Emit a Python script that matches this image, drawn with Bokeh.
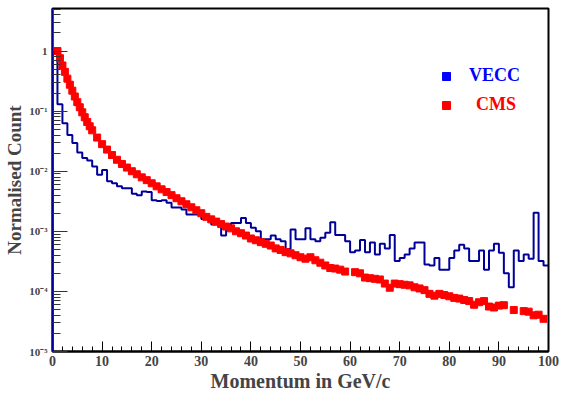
import numpy as np
from bokeh.plotting import figure
from bokeh.models import FixedTicker, Legend, LegendItem, Range1d
from bokeh.embed import file_html
from bokeh.resources import INLINE

# ---------------- data ----------------
vecc_edges = list(range(0, 101))
vecc_counts = [
    0.93, 0.130, 0.063, 0.040, 0.0295, 0.0204, 0.0166, 0.0151, 0.0120, 0.0087,
    0.0105, 0.0068, 0.0063, 0.0056, 0.0052, 0.0052, 0.0042, 0.0040, 0.0046, 0.0045,
    0.0033, 0.0032, 0.0033, 0.0030, 0.0025, 0.0025, 0.0023, 0.0019, 0.0019, 0.0019,
    0.0016, 0.0016, 0.0013, 0.0013, 0.00085, 0.00112, 0.00138, 0.00138, 0.00166, 0.00138,
    0.00115, 0.00100, 0.00074, 0.00074, 0.00085, 0.00074, 0.00068, 0.00051, 0.00107, 0.00074,
    0.00074, 0.00112, 0.00074, 0.00068, 0.00078, 0.00095, 0.00141, 0.00087, 0.00087, 0.00068,
    0.00045, 0.00048, 0.00072, 0.00045, 0.00065, 0.00041, 0.00062, 0.00052, 0.00087, 0.00032,
    0.00036, 0.00041, 0.00052, 0.00065, 0.00065, 0.00028, 0.00027, 0.00036, 0.00023, 0.00023,
    0.00036, 0.00048, 0.00060, 0.00052, 0.00032, 0.00032, 0.00048, 0.00023, 0.00048, 0.00062,
    0.00044, 0.00020, 0.000117, 0.00048, 0.00032, 0.00041, 0.00035, 0.00204, 0.00032, 0.00027,
]

cms_p = [1.0, 1.5, 2.0, 2.5, 3.0, 3.5, 4.0, 4.5, 5.0, 5.5, 6.0, 6.5, 7.0, 7.5, 8.0, 9, 10,
         11, 12, 13, 14, 15, 16, 17, 18, 19, 20,
         21, 22, 23, 24, 25, 26, 27, 28, 29, 30,
         31, 32, 33, 34, 35, 36, 37, 38, 39, 40,
         41, 42, 43, 44, 45, 46, 47, 48, 49, 50,
         51, 52, 53, 54, 55, 56, 57, 58, 59, 61,
         62, 63, 64, 65, 66, 67, 68, 69, 70, 71,
         72, 73, 74, 75, 76, 77, 78, 79, 80, 81,
         82, 83, 84, 85, 86, 87, 88, 89, 90, 91,
         93, 95, 96, 97, 98, 99]
cms_counts = [1.0, 0.76, 0.575, 0.45, 0.347, 0.275, 0.219, 0.175, 0.141, 0.116, 0.0955, 0.079,
              0.066, 0.056, 0.0479, 0.0363, 0.0282,
              0.0229, 0.0186, 0.0155, 0.0132, 0.0115, 0.0100, 0.0089, 0.0079, 0.0071, 0.0063,
              0.0056, 0.0050, 0.0045, 0.0040, 0.00355, 0.00316, 0.00282, 0.00251, 0.00224, 0.00200,
              0.00174, 0.00158, 0.00145, 0.00132, 0.00120, 0.00112, 0.00100, 0.00093, 0.00085, 0.00076,
              0.00071, 0.00066, 0.00062, 0.00058, 0.00052, 0.00049, 0.00045, 0.00043, 0.00040, 0.00037,
              0.00035, 0.00037, 0.00033, 0.00030, 0.00027, 0.000245, 0.00024, 0.00023, 0.000214, 0.000209,
              0.000200, 0.000170, 0.000166, 0.000162, 0.000158, 0.000135, 0.000115, 0.000135, 0.000132, 0.000129,
              0.000126, 0.000117, 0.000112, 0.000105, 0.000091, 0.000085, 0.000091, 0.000087, 0.000083, 0.000078,
              0.000076, 0.000072, 0.000069, 0.000060, 0.000066, 0.000069, 0.000056, 0.000054, 0.000058, 0.000059,
              0.000049, 0.000047, 0.000046, 0.000040, 0.000041, 0.000035]

x_ticks = [0, 10, 20, 30, 40, 50, 60, 70, 80, 90, 100]
y_ticks = [1e-5, 1e-4, 1e-3, 1e-2, 1e-1, 1.0]
y_tick_labels = ["10\u207b\u2075", "10\u207b\u2074", "10\u207b\u00b3", "10\u207b\u00b2", "10\u207b\u00b9", "1"]

series_names = ["VECC", "CMS"]
x_label = "Momentum in GeV/c"
y_label = "Normalised Count"

FONT = "Liberation Serif"
HIST_BLUE = "#000099"

# ---------------- figure ----------------
p = figure(width=563, height=394, output_backend="svg", toolbar_location=None,
           y_axis_type="log",
           x_range=Range1d(0, 100), y_range=Range1d(1e-5, 5.1),
           min_border_left=52, min_border_right=15, min_border_top=8, min_border_bottom=42)
p.grid.visible = False
p.background_fill_color = "white"
p.border_fill_color = "white"
p.outline_line_color = "black"
p.outline_line_width = 2

# histogram outline built from bin edges and counts
hx = [vecc_edges[0]]
hy = [p.y_range.start]
for i, c in enumerate(vecc_counts):
    hx += [vecc_edges[i], vecc_edges[i + 1]]
    hy += [c, c]
p.line(hx, hy, line_color=HIST_BLUE, line_width=2)

p.scatter(cms_p, cms_counts, marker="square", size=7, fill_color="red", line_color="red")

# axes
xa = p.xaxis[0]
xa.ticker = FixedTicker(ticks=x_ticks, minor_ticks=list(range(0, 101, 2)))
xa.axis_label = x_label
xa.axis_label_text_font = FONT
xa.axis_label_text_font_style = "bold"
xa.axis_label_text_font_size = "20px"
xa.axis_label_standoff = 1
xa.major_label_text_font = FONT
xa.major_label_text_font_style = "bold"
xa.major_label_text_font_size = "14px"
xa.major_label_standoff = 4
xa.major_tick_in = 10
xa.major_tick_out = 0
xa.minor_tick_in = 5
xa.minor_tick_out = 0
xa.axis_line_color = "black"
xa.axis_line_width = 2

ya = p.yaxis[0]
ya.ticker = FixedTicker(ticks=y_ticks,
                        minor_ticks=[m * 10.0 ** e for e in range(-5, 1) for m in range(2, 10)])
ya.major_label_overrides = {t: l for t, l in zip(y_ticks, y_tick_labels)}
ya.axis_label = y_label
ya.axis_label_text_font = FONT
ya.axis_label_text_font_style = "bold"
ya.axis_label_text_font_size = "19px"
ya.axis_label_standoff = 1
ya.major_label_text_font = FONT
ya.major_label_text_font_style = "bold"
ya.major_label_text_font_size = "11px"
ya.major_label_standoff = 5
ya.major_tick_in = 15
ya.major_tick_out = 0
ya.minor_tick_in = 8
ya.minor_tick_out = 0
ya.axis_line_color = HIST_BLUE
ya.axis_line_width = 2
ya.major_tick_line_color = "#333333"
ya.minor_tick_line_color = "#333333"

# legend (two separate legends for differently coloured labels)
r_vecc = p.scatter([np.nan], [np.nan], marker="square", fill_color="blue", line_color="blue")
r_cms = p.scatter([np.nan], [np.nan], marker="square", fill_color="red", line_color="red")

def make_legend(name, renderer, color, loc, standoff):
    lg = Legend(items=[LegendItem(label=name, renderers=[renderer])], location=loc,
                padding=0, margin=0, spacing=0, label_standoff=standoff,
                border_line_color=None, background_fill_alpha=0,
                glyph_width=20, glyph_height=20, label_height=20,
                label_text_font=FONT, label_text_font_style="bold",
                label_text_font_size="18px", label_text_color=color)
    p.add_layout(lg)

make_legend(series_names[0], r_vecc, "blue", (384, 265), 13)
make_legend(series_names[1], r_cms, "red", (384, 236), 20)

open("out.html", "w").write(file_html(p, INLINE))
